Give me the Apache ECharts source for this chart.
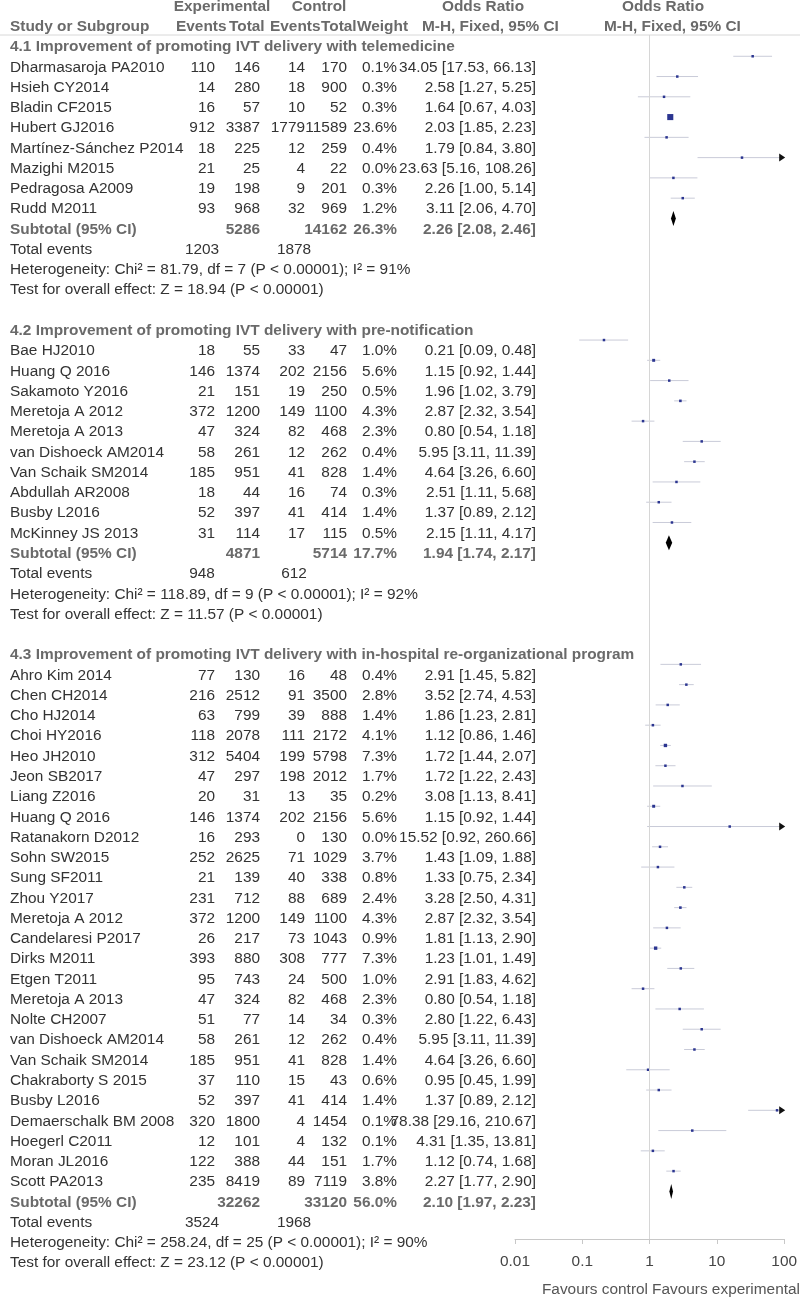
<!DOCTYPE html>
<html>
<head>
<meta charset="utf-8">
<title>Forest plot - IVT delivery</title>
<script src="https://cdn.jsdelivr.net/npm/echarts@6/dist/echarts.min.js"></script>
<style>
  html, body { margin: 0; padding: 0; background: #fff; }
  #chart { width: 800px; height: 1299px; }
</style>
</head>
<body>
<div id="chart"></div>
<script>
// ---- data ----
const groupTitles = [
  '4.1 Improvement of promoting IVT delivery with telemedicine',
  '4.2 Improvement of promoting IVT delivery with pre-notification',
  '4.3 Improvement of promoting IVT delivery with in-hospital re-organizational program'
]
const groupSizes = [8, 10, 26]

const studyNames = [
  'Dharmasaroja PA2010', 'Hsieh CY2014', 'Bladin CF2015', 'Hubert GJ2016',
  'Martínez-Sánchez P2014', 'Mazighi M2015', 'Pedragosa A2009', 'Rudd M2011',
  'Bae HJ2010', 'Huang Q 2016', 'Sakamoto Y2016', 'Meretoja A 2012', 'Meretoja A 2013',
  'van Dishoeck AM2014', 'Van Schaik SM2014', 'Abdullah AR2008', 'Busby L2016', 'McKinney JS 2013',
  'Ahro Kim 2014', 'Chen CH2014', 'Cho HJ2014', 'Choi HY2016', 'Heo JH2010', 'Jeon SB2017',
  'Liang Z2016', 'Huang Q 2016', 'Ratanakorn D2012', 'Sohn SW2015', 'Sung SF2011', 'Zhou Y2017',
  'Meretoja A 2012', 'Candelaresi P2017', 'Dirks M2011', 'Etgen T2011', 'Meretoja A 2013',
  'Nolte CH2007', 'van Dishoeck AM2014', 'Van Schaik SM2014', 'Chakraborty S 2015', 'Busby L2016',
  'Demaerschalk BM 2008', 'Hoegerl C2011', 'Moran JL2016', 'Scott PA2013'
]
const expEvents = [110, 14, 16, 912, 18, 21, 19, 93,
  18, 146, 21, 372, 47, 58, 185, 18, 52, 31,
  77, 216, 63, 118, 312, 47, 20, 146, 16, 252, 21, 231, 372, 26, 393, 95, 47, 51, 58, 185, 37, 52, 320, 12, 122, 235]
const expTotals = [146, 280, 57, 3387, 225, 25, 198, 968,
  55, 1374, 151, 1200, 324, 261, 951, 44, 397, 114,
  130, 2512, 799, 2078, 5404, 297, 31, 1374, 293, 2625, 139, 712, 1200, 217, 880, 743, 324, 77, 261, 951, 110, 397, 1800, 101, 388, 8419]
const ctlEvents = [14, 18, 10, 1779, 12, 4, 9, 32,
  33, 202, 19, 149, 82, 12, 41, 16, 41, 17,
  16, 91, 39, 111, 199, 198, 13, 202, 0, 71, 40, 88, 149, 73, 308, 24, 82, 14, 12, 41, 15, 41, 4, 4, 44, 89]
const ctlTotals = [170, 900, 52, 11589, 259, 22, 201, 969,
  47, 2156, 250, 1100, 468, 262, 828, 74, 414, 115,
  48, 3500, 888, 2172, 5798, 2012, 35, 2156, 130, 1029, 338, 689, 1100, 1043, 777, 500, 468, 34, 262, 828, 43, 414, 1454, 132, 151, 7119]
const weights = [0.1, 0.3, 0.3, 23.6, 0.4, 0.0, 0.3, 1.2,
  1.0, 5.6, 0.5, 4.3, 2.3, 0.4, 1.4, 0.3, 1.4, 0.5,
  0.4, 2.8, 1.4, 4.1, 7.3, 1.7, 0.2, 5.6, 0.0, 3.7, 0.8, 2.4, 4.3, 0.9, 7.3, 1.0, 2.3, 0.3, 0.4, 1.4, 0.6, 1.4, 0.1, 0.1, 1.7, 3.8]
const orEst = [34.05, 2.58, 1.64, 2.03, 1.79, 23.63, 2.26, 3.11,
  0.21, 1.15, 1.96, 2.87, 0.80, 5.95, 4.64, 2.51, 1.37, 2.15,
  2.91, 3.52, 1.86, 1.12, 1.72, 1.72, 3.08, 1.15, 15.52, 1.43, 1.33, 3.28, 2.87, 1.81, 1.23, 2.91, 0.80, 2.80, 5.95, 4.64, 0.95, 1.37, 78.38, 4.31, 1.12, 2.27]
const orLow = [17.53, 1.27, 0.67, 1.85, 0.84, 5.16, 1.00, 2.06,
  0.09, 0.92, 1.02, 2.32, 0.54, 3.11, 3.26, 1.11, 0.89, 1.11,
  1.45, 2.74, 1.23, 0.86, 1.44, 1.22, 1.13, 0.92, 0.92, 1.09, 0.75, 2.50, 2.32, 1.13, 1.01, 1.83, 0.54, 1.22, 3.11, 3.26, 0.45, 0.89, 29.16, 1.35, 0.74, 1.77]
const orHigh = [66.13, 5.25, 4.03, 2.23, 3.80, 108.26, 5.14, 4.70,
  0.48, 1.44, 3.79, 3.54, 1.18, 11.39, 6.60, 5.68, 2.12, 4.17,
  5.82, 4.53, 2.81, 1.46, 2.07, 2.43, 8.41, 1.44, 260.66, 1.88, 2.34, 4.31, 3.54, 2.90, 1.49, 4.62, 1.18, 6.43, 11.39, 6.60, 1.99, 2.12, 210.67, 13.81, 1.68, 2.90]

// subgroup summaries
const subExpTotal = [5286, 4871, 32262]
const subCtlTotal = [14162, 5714, 33120]
const subWeight = [26.3, 17.7, 56.0]
const subEst = [2.26, 1.94, 2.10]
const subLow = [2.08, 1.74, 1.97]
const subHigh = [2.46, 2.17, 2.23]
const totExpEvents = [1203, 948, 3524]
const totCtlEvents = [1878, 612, 1968]
const chiSq = ['81.79', '118.89', '258.24']
const dfs = [7, 9, 25]
const iSq = [91, 92, 90]
const zVals = ['18.94', '11.57', '23.12']

const tickLabels = ['0.01', '0.1', '1', '10', '100']

// ---- layout ----
const rowH = 20.27
const firstRowY = 47 // y of row 2 (first group title)
const plotShift = -11 // markers sit a bit above their text rows
const axisMin = 0.01
const axisMax = 100

const FONT = '15.4px "Liberation Sans", Arial, sans-serif'
const BOLD = 'bold 15.4px "Liberation Sans", Arial, sans-serif'
const TXT = '#333'
const GREY = '#6a6a6a'

// column x positions (pixels)
const col = {
  name: 10, expEv: 215, expTot: 260, ctlEv: 305, ctlTot: 347, weight: 397, or: 536,
  totExp: 202, totCtl: 294
}

const fmtOR = (e, l, h) => e.toFixed(2) + ' [' + l.toFixed(2) + ', ' + h.toFixed(2) + ']'

const textRows = []
const studies = []
const subtotals = []
function put (row, x, text, align, bold) {
  textRows.push({ row, x, text: String(text), align, bold })
}

// headers
put(0, 222, 'Experimental', 'center', true)
put(0, 319, 'Control', 'center', true)
put(0, 483, 'Odds Ratio', 'center', true)
put(0, 663, 'Odds Ratio', 'center', true)
put(1, 10, 'Study or Subgroup', 'left', true)
put(1, 176, 'Events', 'left', true)
put(1, 229, 'Total', 'left', true)
put(1, 270, 'Events', 'left', true)
put(1, 321, 'Total', 'left', true)
put(1, 357, 'Weight', 'left', true)
put(1, 422, 'M-H, Fixed, 95% CI', 'left', true)
put(1, 604, 'M-H, Fixed, 95% CI', 'left', true)

let r = 2
let k = 0
groupTitles.forEach((title, g) => {
  put(r, 10, title, 'left', true)
  r++
  for (let j = 0; j < groupSizes[g]; j++, k++, r++) {
    put(r, col.name, studyNames[k], 'left')
    put(r, col.expEv, expEvents[k], 'right')
    put(r, col.expTot, expTotals[k], 'right')
    put(r, col.ctlEv, ctlEvents[k], 'right')
    put(r, col.ctlTot, ctlTotals[k], 'right')
    put(r, col.weight, weights[k].toFixed(1) + '%', 'right')
    put(r, col.or, fmtOR(orEst[k], orLow[k], orHigh[k]), 'right')
    studies.push({ row: r, est: orEst[k], low: orLow[k], high: orHigh[k], w: weights[k] })
  }
  put(r, col.name, 'Subtotal (95% CI)', 'left', true)
  put(r, col.expTot, subExpTotal[g], 'right', true)
  put(r, col.ctlTot, subCtlTotal[g], 'right', true)
  put(r, col.weight, subWeight[g].toFixed(1) + '%', 'right', true)
  put(r, col.or, fmtOR(subEst[g], subLow[g], subHigh[g]), 'right', true)
  subtotals.push({ row: r, est: subEst[g], low: subLow[g], high: subHigh[g] })
  r++
  put(r, col.name, 'Total events', 'left')
  put(r, col.totExp, totExpEvents[g], 'center')
  put(r, col.totCtl, totCtlEvents[g], 'center')
  r++
  put(r, col.name, 'Heterogeneity: Chi² = ' + chiSq[g] + ', df = ' + dfs[g] + ' (P < 0.00001); I² = ' + iSq[g] + '%', 'left')
  r++
  put(r, col.name, 'Test for overall effect: Z = ' + zVals[g] + ' (P < 0.00001)', 'left')
  r += 2
})

// row range of each grid so that rows land on the picture's pixel rows
const H = 1299
const textMin = 2 - firstRowY / rowH
const textMax = 2 + (H - firstRowY) / rowH
const plotTop = 35
const plotBottom = 1239
const plotMin = 2 + (plotTop - firstRowY - plotShift) / rowH
const plotMax = 2 + (plotBottom - firstRowY - plotShift) / rowH

const chart = echarts.init(document.getElementById('chart'))
const clampX = v => Math.min(Math.max(v, axisMin), axisMax)

const option = {
  animation: false,
  backgroundColor: '#fff',
  grid: [
    { left: 0, top: 0, width: 800, height: H },
    { left: 515, top: plotTop, width: 274, height: plotBottom - plotTop }
  ],
  xAxis: [
    { gridIndex: 0, type: 'value', min: 0, max: 800, show: false },
    {
      gridIndex: 1,
      type: 'log',
      logBase: 10,
      min: axisMin,
      max: axisMax,
      splitNumber: 4,
      axisLine: { show: true, lineStyle: { color: '#c8c8c8', width: 1 } },
      axisTick: { show: true, length: 5, lineStyle: { color: '#c8c8c8' } },
      axisLabel: {
        margin: 15,
        fontSize: 15.4,
        fontFamily: '"Liberation Sans", Arial, sans-serif',
        color: '#444',
        formatter: v => tickLabels[Math.round(Math.log10(v)) + 2]
      },
      splitLine: { show: false }
    }
  ],
  yAxis: [
    { gridIndex: 0, type: 'value', min: textMin, max: textMax, inverse: true, show: false },
    { gridIndex: 1, type: 'value', min: plotMin, max: plotMax, inverse: true, show: false }
  ],
  graphic: [
    { type: 'line', shape: { x1: 0, y1: 35, x2: 800, y2: 35 }, style: { stroke: '#d8d8d8', lineWidth: 1 } },
    { type: 'text', x: 648, y: 1290, style: { text: 'Favours control', font: FONT, fill: '#555', align: 'right', verticalAlign: 'middle' } },
    { type: 'text', x: 652, y: 1290, style: { text: 'Favours experimental', font: FONT, fill: '#555', align: 'left', verticalAlign: 'middle' } }
  ],
  series: [
    {
      // table text
      type: 'custom',
      xAxisIndex: 0,
      yAxisIndex: 0,
      silent: true,
      clip: false,
      data: textRows.map(t => [t.x, t.row]),
      renderItem (params, api) {
        const t = textRows[params.dataIndex]
        const p = api.coord([api.value(0), api.value(1)])
        return {
          type: 'text',
          x: p[0],
          y: p[1],
          style: {
            text: t.text,
            font: t.bold ? BOLD : FONT,
            fill: t.bold ? GREY : TXT,
            align: t.align,
            verticalAlign: 'middle'
          }
        }
      }
    },
    {
      // study CIs and squares
      type: 'custom',
      xAxisIndex: 1,
      yAxisIndex: 1,
      silent: true,
      clip: false,
      data: studies.map(s => [s.est, s.row]),
      renderItem (params, api) {
        const s = studies[params.dataIndex]
        const y = api.coord([1, s.row])[1]
        const x0 = api.coord([clampX(s.low), s.row])[0]
        const x1 = api.coord([clampX(s.high), s.row])[0]
        const xe = api.coord([s.est, s.row])[0]
        const size = Math.max(2.5, Math.sqrt(s.w) * 1.25)
        const children = [
          { type: 'line', shape: { x1: x0, y1: y, x2: x1, y2: y }, style: { stroke: '#c9cbd8', lineWidth: 1 } },
          { type: 'rect', shape: { x: xe - size / 2, y: y - size / 2, width: size, height: size }, style: { fill: '#2b3590' } }
        ]
        if (s.high > axisMax) {
          children.push({
            type: 'polygon',
            shape: { points: [[x1 - 5, y - 4], [x1 + 1, y], [x1 - 5, y + 4]] },
            style: { fill: '#111' }
          })
        }
        return { type: 'group', children }
      },
      markLine: {
        silent: true,
        symbol: 'none',
        label: { show: false },
        lineStyle: { color: '#d6d6d6', type: 'solid', width: 1 },
        data: [{ xAxis: 1 }]
      }
    },
    {
      // subtotal diamonds
      type: 'custom',
      xAxisIndex: 1,
      yAxisIndex: 1,
      silent: true,
      clip: false,
      data: subtotals.map(s => [s.est, s.row]),
      renderItem (params, api) {
        const s = subtotals[params.dataIndex]
        const y = api.coord([1, s.row])[1]
        const x0 = api.coord([s.low, s.row])[0]
        const x1 = api.coord([s.high, s.row])[0]
        const xe = api.coord([s.est, s.row])[0]
        return {
          type: 'polygon',
          shape: { points: [[x0, y], [xe, y - 7.5], [x1, y], [xe, y + 7.5]] },
          style: { fill: '#000' }
        }
      }
    }
  ]
}

chart.setOption(option)
</script>
</body>
</html>
